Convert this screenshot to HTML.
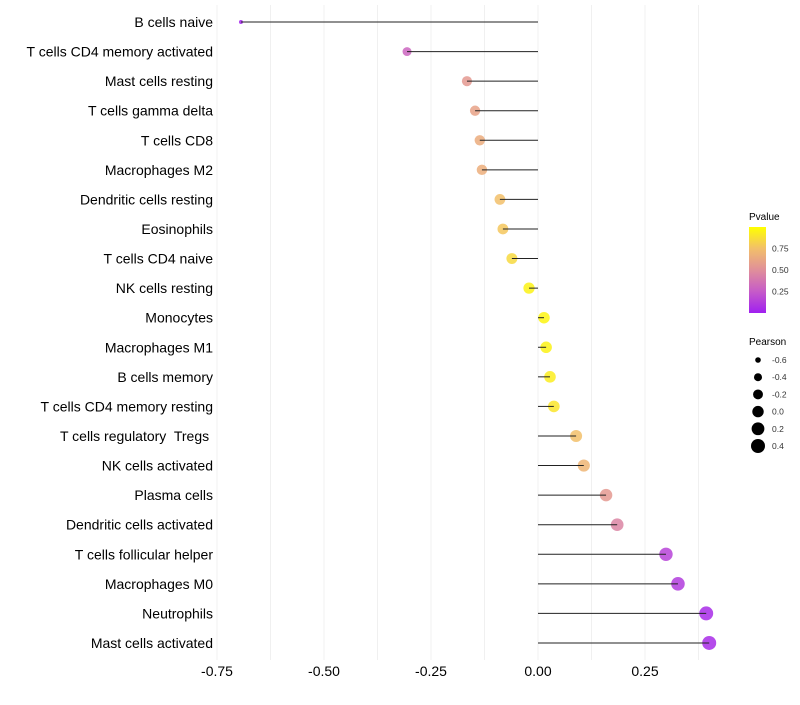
<!DOCTYPE html>
<html><head><meta charset="utf-8"><style>
body{margin:0;background:#fff;font-family:"Liberation Sans",sans-serif}
text{white-space:pre}
</style></head><body>
<svg id="chart" width="800" height="700" xmlns="http://www.w3.org/2000/svg">
<defs><linearGradient id="pg" x1="0" y1="1" x2="0" y2="0">
<stop offset="0" stop-color="#a020f0"/><stop offset="0.25" stop-color="#c65bc8"/><stop offset="0.5" stop-color="#e08f9a"/><stop offset="0.75" stop-color="#f2bf6a"/><stop offset="1" stop-color="#ffff00"/></linearGradient></defs>
<g id="grid"></g><g id="marks"></g><g id="labels"></g><g id="legend"></g>
</svg>
<script>
const categories=["B cells naive","T cells CD4 memory activated","Mast cells resting","T cells gamma delta","T cells CD8","Macrophages M2","Dendritic cells resting","Eosinophils","T cells CD4 naive","NK cells resting","Monocytes","Macrophages M1","B cells memory","T cells CD4 memory resting","T cells regulatory  Tregs ","NK cells activated","Plasma cells","Dendritic cells activated","T cells follicular helper","Macrophages M0","Neutrophils","Mast cells activated"];
const pearson=[-0.694,-0.306,-0.166,-0.147,-0.136,-0.131,-0.089,-0.082,-0.061,-0.021,0.014,0.019,0.028,0.037,0.089,0.107,0.159,0.185,0.299,0.327,0.393,0.400];
const pvalue=[0.02,0.30,0.55,0.60,0.65,0.66,0.75,0.78,0.85,0.95,0.96,0.95,0.93,0.90,0.75,0.70,0.55,0.45,0.15,0.12,0.05,0.05];
const xTicks=[-0.75,-0.5,-0.25,0,0.25];
const xTickLabels=["-0.75","-0.50","-0.25","0.00","0.25"];
const sizeLegend=[-0.6,-0.4,-0.2,0.0,0.2,0.4];
const NS="http://www.w3.org/2000/svg";
const x=v=>538+v*428;
const y=i=>22+i*29.57;
const rad=v=>Math.sqrt(4+Math.max(0,(v+0.694))/1.094*45);
const stops=[[0,[160,32,240]],[0.25,[198,91,200]],[0.5,[224,143,154]],[0.75,[242,191,106]],[1,[255,255,0]]];
function col(p){for(let k=0;k<stops.length-1;k++){const [a,ca]=stops[k],[b,cb]=stops[k+1];if(p<=b){const t=(p-a)/(b-a);return 'rgb('+ca.map((c,j)=>Math.round(c+(cb[j]-c)*t)).join(',')+')';}}return 'rgb(255,255,0)';}
function mk(t,a,p){const e=document.createElementNS(NS,t);for(const k in a)e.setAttribute(k,a[k]);p.appendChild(e);return e;}
const grid=document.getElementById('grid'),marks=document.getElementById('marks'),labels=document.getElementById('labels'),legend=document.getElementById('legend');
for(let v=-0.75;v<=0.4;v+=0.125){const g=mk('line',{x1:x(v),x2:x(v),y1:5,y2:660,stroke:'#f0f0f0','stroke-width':1},grid);}
xTicks.forEach((v,i)=>{const t=mk('text',{x:x(v),y:676,'text-anchor':'middle','font-size':14,fill:'#000'},labels);t.textContent=xTickLabels[i];});
categories.forEach((c,i)=>{
const t=mk('text',{x:213,y:y(i)+5,'text-anchor':'end','font-size':14,fill:'#000'},labels);t.textContent=c;
const p=mk('circle',{cx:x(pearson[i]),cy:y(i),r:rad(pearson[i]),fill:col(pvalue[i]),opacity:0.85},marks);
const s=mk('line',{x1:x(0),x2:x(pearson[i]),y1:y(i),y2:y(i),stroke:'#222','stroke-width':1},marks);
});
let t=mk('text',{x:749,y:220,'font-size':10},legend);t.textContent='Pvalue';
let r=mk('rect',{x:749,y:227,width:17,height:86,fill:'url(#pg)'},legend);
[[0.75,'0.75'],[0.5,'0.50'],[0.25,'0.25']].forEach(([v,l])=>{const yy=313-v*86;const tt=mk('text',{x:772,y:yy+3,'font-size':8.5,fill:'#333'},legend);tt.textContent=l;});
t=mk('text',{x:749,y:345,'font-size':10},legend);t.textContent='Pearson';
sizeLegend.forEach((v,i)=>{const yy=360+i*17.2;const c=mk('circle',{cx:758,cy:yy,r:rad(v),fill:'#000'},legend);const tt=mk('text',{x:772,y:yy+3,'font-size':8.5,fill:'#333'},legend);tt.textContent=v.toFixed(1);});
</script>
</body></html>
